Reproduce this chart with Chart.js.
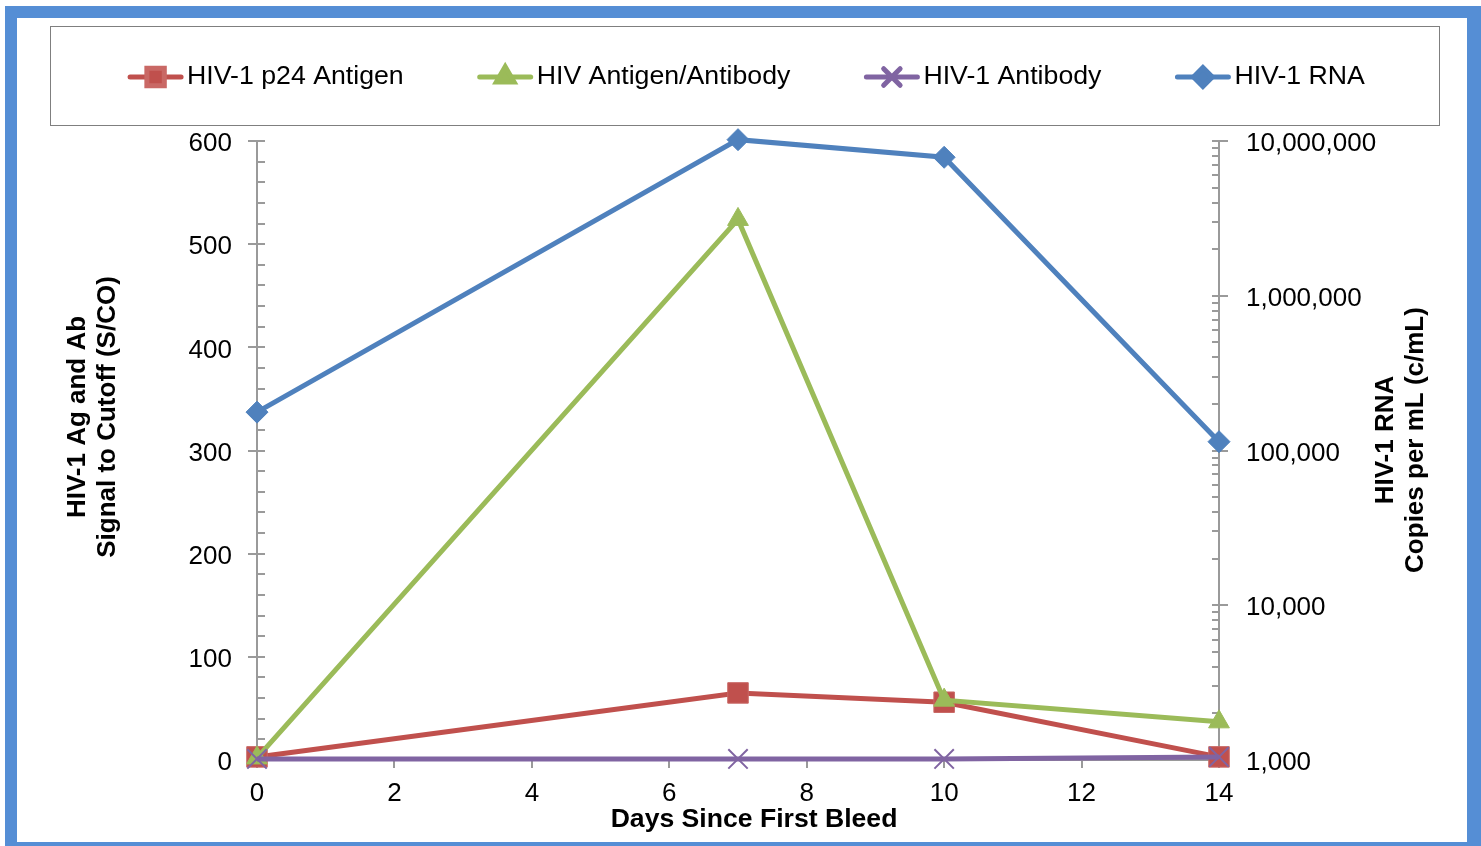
<!DOCTYPE html>
<html>
<head>
<meta charset="utf-8">
<script src="https://cdn.jsdelivr.net/npm/chart.js@4.4.1/dist/chart.umd.min.js"></script>
<style>
  html, body { margin: 0; padding: 0; background: #fff; overflow: hidden; }
  #frame {
    position: absolute; left: 5px; top: 6px; width: 1450px; height: 824px;
    border: 12px solid #558ed5; border-right-width: 14px;
  }
  #wrap { position: absolute; left: 0; top: 0; width: 1481px; height: 846px; }
</style>
</head>
<body>
<div id="frame"></div>
<div id="wrap"><canvas id="chart" width="1481" height="846"></canvas></div>
<script>
// values
const days = [0, 7, 10, 14];
const p24Antigen = [3, 65, 56, 3];
const agAb = [2, 524, 58, 37];
const antibody = [1, 1, 1, 3];
const rnaCopies = [177000, 10200000, 7850000, 114000];

const xTicks = [0, 2, 4, 6, 8, 10, 12, 14];
const leftTicks = [0, 100, 200, 300, 400, 500, 600];
const rightTicks = [1000, 10000, 100000, 1000000, 10000000];

const FONT = '"Liberation Sans", Arial, sans-serif';
const AXIS = '#9a9a9a';
const RED = '#c0504d', GREEN = '#9bbb59', PURPLE = '#8064a2', BLUE = '#4f81bd';

Chart.defaults.font.family = FONT;
Chart.defaults.font.size = 26;
Chart.defaults.color = '#000';

const pts = vals => days.map((d, i) => ({ x: d, y: vals[i] }));

// tick marks, legend box and axis titles drawn like the Excel original
const decor = {
  id: 'decor',
  beforeDatasetsDraw(chart) {
    const { ctx, chartArea: a, scales: { x, y, y2 } } = chart;
    ctx.save();
    ctx.strokeStyle = AXIS;
    ctx.lineWidth = 2;
    ctx.beginPath();
    // left: majors cross the axis, minors inside
    for (let v = leftTicks[0]; v <= leftTicks[leftTicks.length - 1]; v += 20) {
      const py = Math.round(y.getPixelForValue(v));
      const major = leftTicks.includes(v);
      ctx.moveTo(major ? a.left - 9 : a.left, py);
      ctx.lineTo(a.left + 8, py);
    }
    // right log axis
    for (let d = 0; d < rightTicks.length; d++) {
      const dec = rightTicks[d];
      const py = Math.round(y2.getPixelForValue(dec));
      ctx.moveTo(a.right - 7, py);
      ctx.lineTo(a.right + 9, py);
      if (d < rightTicks.length - 1) {
        for (let m = 2; m <= 9; m++) {
          const pm = Math.round(y2.getPixelForValue(dec * m));
          ctx.moveTo(a.right - 7, pm);
          ctx.lineTo(a.right, pm);
        }
      }
    }
    // bottom
    xTicks.forEach(v => {
      const px = Math.round(x.getPixelForValue(v));
      ctx.moveTo(px, a.bottom);
      ctx.lineTo(px, a.bottom + 8);
    });
    ctx.stroke();
    ctx.restore();
  },
  afterDraw(chart) {
    const { ctx } = chart;
    ctx.save();

    // legend box
    ctx.strokeStyle = '#7f7f7f';
    ctx.lineWidth = 1;
    ctx.strokeRect(50.5, 26.5, 1389, 99);

    ctx.font = '26.7px ' + FONT;
    ctx.textBaseline = 'middle';
    ctx.textAlign = 'left';
    const sets = chart.data.datasets;
    const symW = 55, txtGap = 4, itemGap = 74, ly = 77;
    const widths = sets.map(s => symW + txtGap + ctx.measureText(s.label).width);
    const total = widths.reduce((p, c) => p + c, 0) + itemGap * (sets.length - 1);
    let lx = 746.5 - total / 2;
    sets.forEach((s, i) => {
      ctx.strokeStyle = s.borderColor;
      ctx.lineWidth = 5;
      ctx.lineCap = 'round';
      ctx.beginPath();
      ctx.moveTo(lx + 2, ly);
      ctx.lineTo(lx + symW - 2, ly);
      ctx.stroke();
      ctx.fillStyle = s.pointBackgroundColor;
      ctx.strokeStyle = s.pointBorderColor;
      Chart.helpers.drawPoint(ctx, {
        pointStyle: s.pointStyle, rotation: 0,
        radius: s.pointRadius * 0.85, borderWidth: s.pointBorderWidth
      }, lx + symW / 2, ly);
      ctx.fillStyle = '#000';
      ctx.fillText(s.label, lx + symW + txtGap, ly);
      lx += widths[i] + itemGap;
    });

    // axis titles
    ctx.font = 'bold 26.6px ' + FONT;
    ctx.textAlign = 'center';
    ctx.fillStyle = '#000';
    ctx.fillText('Days Since First Bleed', 754, 820);
    ctx.font = 'bold 26px ' + FONT;
    const vtext = (lines, cx, cy) => {
      ctx.save();
      ctx.translate(cx, cy);
      ctx.rotate(-Math.PI / 2);
      lines.forEach((t, i) => ctx.fillText(t, 0, (i - (lines.length - 1) / 2) * 30));
      ctx.restore();
    };
    vtext(['HIV-1 Ag and Ab', 'Signal to Cutoff (S/CO)'], 93, 417);
    vtext(['HIV-1 RNA', 'Copies per mL (c/mL)'], 1401, 440);
    ctx.restore();
  }
};

const border = { color: AXIS, width: 2 };

new Chart(document.getElementById('chart'), {
  type: 'line',
  data: {
    datasets: [
      {
        label: 'HIV-1 p24 Antigen', data: pts(p24Antigen), yAxisID: 'y',
        borderColor: RED, pointBackgroundColor: RED, pointBorderColor: '#c96865',
        pointStyle: 'rect', pointRadius: 14.5, pointBorderWidth: 1, order: 4
      },
      {
        label: 'HIV Antigen/Antibody', data: pts(agAb), yAxisID: 'y',
        borderColor: GREEN, pointBackgroundColor: GREEN, pointBorderColor: GREEN,
        pointStyle: 'triangle', pointRadius: 12, pointBorderWidth: 1, order: 3
      },
      {
        label: 'HIV-1 Antibody', data: pts(antibody), yAxisID: 'y',
        borderColor: PURPLE, pointBackgroundColor: PURPLE, pointBorderColor: PURPLE,
        pointStyle: 'crossRot', pointRadius: 13.7, pointBorderWidth: 2, order: 2
      },
      {
        label: 'HIV-1 RNA', data: pts(rnaCopies), yAxisID: 'y2',
        borderColor: BLUE, pointBackgroundColor: BLUE, pointBorderColor: BLUE,
        pointStyle: 'rectRot', pointRadius: 11, pointBorderWidth: 1, order: 1
      }
    ].map(d => Object.assign({ borderWidth: 5, tension: 0, clip: false, fill: false }, d))
  },
  options: {
    responsive: false,
    animation: false,
    events: [],
    layout: { padding: { top: 141, left: 0, right: 0, bottom: 0 } },
    plugins: { legend: { display: false }, tooltip: { enabled: false } },
    scales: {
      x: {
        type: 'linear', min: 0, max: 14,
        afterBuildTicks: s => { s.ticks = xTicks.map(v => ({ value: v })); },
        ticks: { padding: 18 },
        grid: { display: false, drawTicks: false },
        border,
        afterFit: s => { s.height = 86; }
      },
      y: {
        type: 'linear', position: 'left', min: 0, max: 600,
        afterBuildTicks: s => { s.ticks = leftTicks.map(v => ({ value: v })); },
        ticks: { padding: 25, labelOffset: 3 },
        grid: { display: false, drawTicks: false },
        border,
        afterFit: s => { s.width = 257; }
      },
      y2: {
        type: 'logarithmic', position: 'right', min: 1000, max: 10000000,
        afterBuildTicks: s => { s.ticks = rightTicks.map(v => ({ value: v })); },
        ticks: { padding: 27, labelOffset: 3, callback: v => Number(v).toLocaleString('en-US') },
        grid: { display: false, drawTicks: false },
        border,
        afterFit: s => { s.width = 262; }
      }
    }
  },
  plugins: [decor]
});
</script>
</body>
</html>
